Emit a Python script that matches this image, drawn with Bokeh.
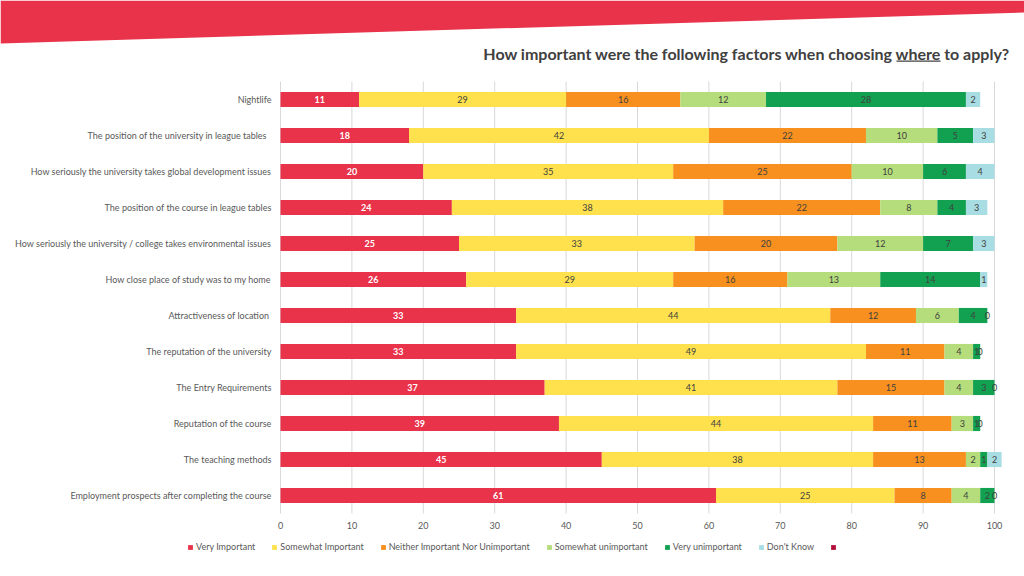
from bokeh.plotting import figure
from bokeh.models import (ColumnDataSource, Range1d, Label, PolyAnnotation, BoxAnnotation,
                          FixedTicker, Legend, LegendItem)
from bokeh.core.properties import value
from bokeh.embed import file_html
from bokeh.resources import INLINE

categories = [
    "Nightlife",
    "The position of the university  in league tables ",
    "How seriously the university takes global development issues",
    "The position of the course in league tables",
    "How seriously the university / college takes environmental issues",
    "How close place of study was to my home",
    "Attractiveness of location ",
    "The reputation of the university",
    "The Entry Requirements",
    "Reputation of the course",
    "The teaching methods",
    "Employment prospects after completing the course",
]
very_important = [11, 18, 20, 24, 25, 26, 33, 33, 37, 39, 45, 61]
somewhat_important = [29, 42, 35, 38, 33, 29, 44, 49, 41, 44, 38, 25]
neither = [16, 22, 25, 22, 20, 16, 12, 11, 15, 11, 13, 8]
somewhat_unimportant = [12, 10, 10, 8, 12, 13, 6, 4, 4, 3, 2, 4]
very_unimportant = [28, 5, 6, 4, 7, 14, 4, 1, 3, 1, 1, 2]
dont_know = [2, 3, 4, 3, 3, 1, 0, 0, 0, 0, 2, 0]
series_names = ["Very Important", "Somewhat Important", "Neither Important Nor Unimportant",
                "Somewhat unimportant", "Very unimportant", "Don't Know"]
x_ticks = [0, 10, 20, 30, 40, 50, 60, 70, 80, 90, 100]
title_text = "How important were the following factors when choosing where to apply?"

colors = ["#E8334A", "#FFE14D", "#F7901E", "#B5DD7B", "#12A150", "#A8DDE3"]
extra_color = "#B0103A"
FONT = "Lato"

W, H = 1024, 576
PX_PER_UNIT = 7.14       # horizontal scale (0 -> 280px, 100 -> 994px)
ROW_PX = 36              # vertical spacing of rows
X0_PX, ROW0_PX = 280, 99

series = [very_important, somewhat_important, neither, somewhat_unimportant, very_unimportant, dont_know]
keys = ["s%d" % i for i in range(len(series))]
rows = list(range(len(categories)))
data = {"row": rows}
for k, s in zip(keys, series):
    data[k] = s
source = ColumnDataSource(data)

x_start = -X0_PX / PX_PER_UNIT
x_end = (W - X0_PX) / PX_PER_UNIT
y_top = -ROW0_PX / ROW_PX
y_bottom = y_top + H / ROW_PX

p = figure(width=W, height=H, output_backend="svg", toolbar_location=None,
           x_range=Range1d(x_start, x_end), y_range=Range1d(y_bottom, y_top),
           min_border=0, min_border_left=0, min_border_right=0, min_border_top=0, min_border_bottom=0)
p.outline_line_color = None
p.background_fill_color = "white"
p.border_fill_color = "white"
p.xgrid.visible = False
p.ygrid.visible = False

# vertical grid lines spanning the category band only
n = len(categories)
p.segment(x0=x_ticks, x1=x_ticks, y0=[-0.5] * len(x_ticks), y1=[n - 0.5] * len(x_ticks),
          line_color="#D9D9D9", line_width=1)

renderers = p.hbar_stack(keys, y="row", height=0.42, color=colors, line_color=None, source=source)

# segment labels
for i, s in enumerate(series):
    starts = [sum(series[j][r] for j in range(i)) for r in rows]
    xs = [st + v / 2 for st, v in zip(starts, s)]
    lsrc = ColumnDataSource(dict(x=xs, y=rows, t=[str(v) for v in s]))
    p.text(x="x", y="y", text="t", source=lsrc, text_align="center", text_baseline="middle",
           text_font=value(FONT), text_font_size="9px",
           text_color="white" if i == 0 else "#404040",
           text_font_style="bold" if i == 0 else "normal")

# axes, fixed inside the frame
p.xaxis.fixed_location = n - 0.5
p.yaxis.fixed_location = 0
p.xaxis.ticker = FixedTicker(ticks=x_ticks)
p.yaxis.ticker = FixedTicker(ticks=rows)
p.yaxis.major_label_overrides = {r: c for r, c in zip(rows, categories)}
for ax in (p.xaxis, p.yaxis):
    ax.axis_line_color = None
    ax.major_tick_line_color = None
    ax.minor_tick_line_color = None
    ax.major_tick_out = 0
    ax.major_tick_in = 0
    ax.minor_tick_out = 0
    ax.major_label_text_font = FONT
    ax.major_label_text_color = "#595959"
    ax.major_label_text_font_size = "9px"
p.xaxis.major_label_standoff = 8
p.yaxis.major_label_standoff = 9

# legend (inside the frame, near the bottom); last entry is an unlabelled dark-red swatch
dummy = p.hbar(y=[0], left=[0], right=[0], height=0.1, fill_color=extra_color, line_color=None)
items = [LegendItem(label=nm, renderers=[r]) for nm, r in zip(series_names, renderers)]
items.append(LegendItem(label=" ", renderers=[dummy]))
legend = Legend(items=items, orientation="horizontal", location=(187, 24),
                glyph_width=6, glyph_height=6, label_standoff=3, spacing=16,
                label_text_font=FONT, label_text_font_size="9px", label_text_color="#595959",
                label_height=10, background_fill_alpha=0, border_line_color=None,
                padding=0, margin=0)
p.add_layout(legend, "center")

# screen units: origin at the bottom-left of the frame (= canvas)
def sy(cy):
    return H - cy

banner = PolyAnnotation(xs=[0, W, W, 0], ys=[sy(0), sy(0), sy(12), sy(43)],
                        xs_units="screen", ys_units="screen",
                        fill_color="#E8334A", fill_alpha=1, line_color=None, level="overlay")
p.add_layout(banner)

title = Label(x=1010, y=sy(53), x_units="screen", y_units="screen", text=title_text,
              text_font=FONT, text_font_size="16px", text_font_style="bold",
              text_color="#404040", text_align="right", text_baseline="middle")
p.add_layout(title)
underline = BoxAnnotation(left=896, right=940, top=sy(60), bottom=sy(61.2),
                          left_units="screen", right_units="screen", top_units="screen", bottom_units="screen",
                          fill_color="#404040", fill_alpha=1, line_color=None)
p.add_layout(underline)

open("out.html", "w").write(file_html(p, INLINE))
